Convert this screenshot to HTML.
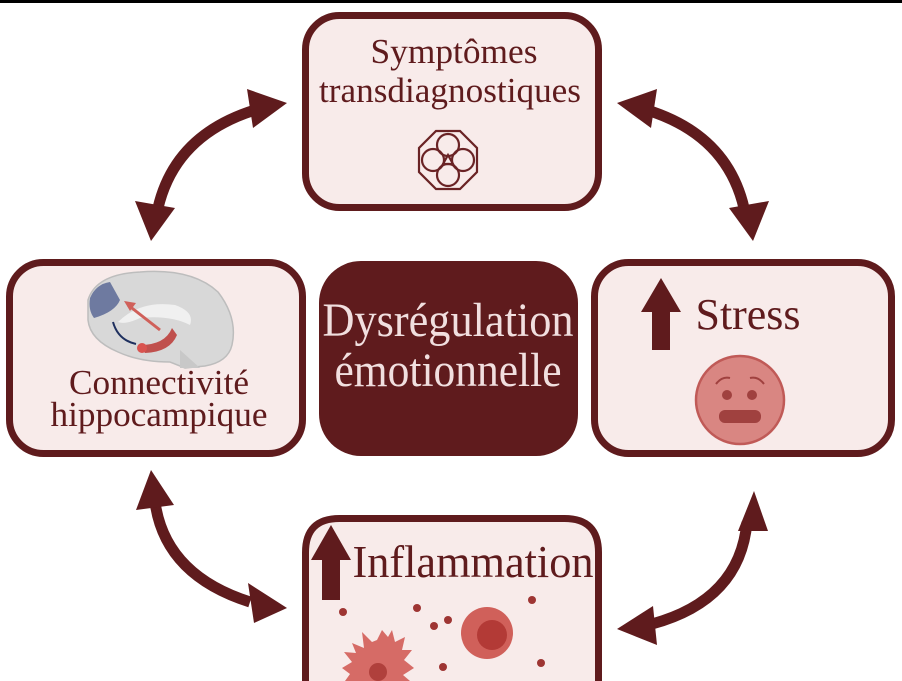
<!DOCTYPE html>
<html><head><meta charset="utf-8"><style>
html,body{margin:0;padding:0;background:#fff;width:902px;height:681px;overflow:hidden;}
svg{display:block;}
text{font-family:"Liberation Serif",serif;}
</style></head><body>
<svg width="902" height="681" viewBox="0 0 902 681" xmlns="http://www.w3.org/2000/svg">
<rect x="0" y="0" width="902" height="3" fill="#000"/>
<g stroke="#5f1b1d" stroke-width="7" fill="#f8ebea">
<rect x="305.5" y="15.5" width="293" height="192" rx="34"/>
<rect x="9.5" y="262.5" width="293" height="191" rx="34"/>
<rect x="594.5" y="262.5" width="297" height="191" rx="34"/>
<path d="M305.5 681 L305.5 552.5 Q305.5 518.5 339.5 518.5 L564.5 518.5 Q598.5 518.5 598.5 552.5 L598.5 681"/>
</g>
<rect x="319" y="261" width="259" height="195" rx="42" fill="#5f1b1d"/>
<g fill="none" stroke="#5f1b1d" stroke-width="11">
<path d="M255 110 Q175 135 158 208"/>
<path d="M647 110 Q727 135 744 208"/>
<path d="M155 502 Q165 575 250 602"/>
<path d="M747 522 Q740 600 652 624"/>
</g>
<g fill="#5f1b1d">
<polygon points="287,103 247,89 253,128"/>
<polygon points="151,241 135,201 175,208"/>
<polygon points="617,103 657,89 651,128"/>
<polygon points="753,241 769,201 729,208"/>
<polygon points="151,470 136,510 174,505"/>
<polygon points="287,608 248,583 254,623"/>
<polygon points="754,491 738,531 768,531"/>
<polygon points="617,629 653,606 657,645"/>
</g>
<g fill="#5f1b1d" font-size="35" text-anchor="middle">
<text x="454" y="63" textLength="167" lengthAdjust="spacingAndGlyphs">Symptômes</text>
<text x="450" y="102" textLength="262" lengthAdjust="spacingAndGlyphs">transdiagnostiques</text>
<text x="159" y="394" textLength="180" lengthAdjust="spacingAndGlyphs">Connectivité</text>
<text x="159" y="426" textLength="217" lengthAdjust="spacingAndGlyphs">hippocampique</text>
</g>
<g fill="none" stroke="#6a2325" stroke-width="2.2" transform="translate(448,160)">
<polygon points="-12,-29 12,-29 29,-12 29,12 12,29 -12,29 -29,12 -29,-12"/>
<circle cx="0" cy="-15" r="11"/><circle cx="0" cy="15" r="11"/>
<circle cx="-15" cy="0" r="11"/><circle cx="15" cy="0" r="11"/>
<polygon points="0,-5 5,4 -5,4"/>
</g>
<g fill="#f1dfdf" font-size="48" text-anchor="middle">
<text x="448" y="336" textLength="251" lengthAdjust="spacingAndGlyphs">Dysrégulation</text>
<text x="448" y="386" textLength="227" lengthAdjust="spacingAndGlyphs">émotionnelle</text>
</g>
<g>
<path d="M88 300 Q96 274 140 272 Q192 268 218 292 Q238 318 232 345 Q228 362 205 366 L185 368 L170 362 Q140 362 118 352 Q90 340 88 320 Z" fill="#d8d8d8" stroke="#bdbdbd" stroke-width="1.5"/>
<path d="M90 298 Q96 284 110 282 L120 300 Q115 312 94 318 Q88 310 90 298Z" fill="#6e7aa0"/>
<path d="M118 322 Q140 300 175 305 Q195 312 190 325 Q170 315 140 318 Q125 325 118 322Z" fill="#f0f0f0"/>
<path d="M140 345 Q165 345 172 328 L177 335 Q170 352 145 353Z" fill="#c0504d"/>
<circle cx="142" cy="348" r="5" fill="#d9534f"/>
<path d="M160 330 L128 305" stroke="#d0605a" stroke-width="3"/>
<polygon points="124,301 136,303 130,311" fill="#d0605a"/>
<path d="M113 322 Q118 340 136 344" stroke="#1e2f5e" stroke-width="2" fill="none"/>
<path d="M180 350 L180 368 L200 368 Z" fill="#c8c8c8"/>
</g>
<g fill="#5f1b1d">
<polygon points="661,278 641,312 652,312 652,350 670,350 670,312 681,312"/>
<text x="748" y="329" font-size="44" text-anchor="middle" textLength="105" lengthAdjust="spacingAndGlyphs">Stress</text>
<polygon points="331,525 311,560 322,560 322,600 340,600 340,560 351,560"/>
<text x="473" y="577" font-size="46" text-anchor="middle" textLength="241" lengthAdjust="spacingAndGlyphs">Inflammation</text>
</g>
<g>
<circle cx="740" cy="400" r="44" fill="#d98682" stroke="#c05a57" stroke-width="2.5"/>
<circle cx="727" cy="395" r="5" fill="#a0413f"/><circle cx="752" cy="395" r="5" fill="#a0413f"/>
<rect x="719" y="410" width="42" height="13" rx="6" fill="#a0413f"/>
<path d="M716 384 Q722 376 730 378 M750 378 Q758 376 764 384" stroke="#a0413f" stroke-width="2" fill="none"/>
</g>
<g>
<circle cx="487" cy="633" r="26" fill="#d0605a"/>
<circle cx="492" cy="635" r="15" fill="#b33a36"/>
<polygon points="377,640 382,630 388,637 392,630 395,642 405,637 402,650 412,650 404,660 414,668 403,675 410,681 345,681 350,674 342,668 352,662 344,652 356,653 352,643 364,648 362,632 372,642" fill="#d66b66"/>
<circle cx="378" cy="672" r="9" fill="#b0403c"/>
<g fill="#9e3533">
<circle cx="343" cy="612" r="4"/><circle cx="417" cy="608" r="4"/><circle cx="434" cy="626" r="4"/><circle cx="448" cy="620" r="4"/><circle cx="532" cy="600" r="4"/><circle cx="443" cy="667" r="4"/><circle cx="541" cy="663" r="4"/>
</g>
</g>
</svg>
</body></html>
